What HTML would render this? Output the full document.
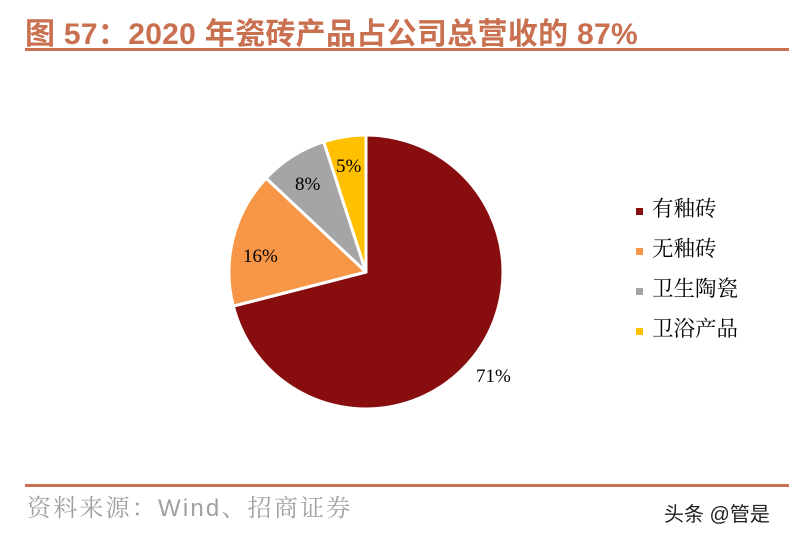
<!DOCTYPE html>
<html><head><meta charset="utf-8"><style>
body{margin:0;width:789px;height:539px;background:#fff;overflow:hidden;position:relative;font-family:"Liberation Sans","Noto Sans CJK SC",sans-serif}
.t{position:absolute;left:25px;top:9px;font-size:30px;font-weight:bold;color:#c8704f;white-space:nowrap;letter-spacing:0.3px}
.l1{position:absolute;left:25px;top:48px;width:764px;height:3px;background:#c8704f}
.l2{position:absolute;left:25px;top:484px;width:764px;height:3px;background:#c8704f}
.s{position:absolute;left:27px;top:488px;font-size:24px;color:#a0a0a0;letter-spacing:2.2px;font-family:"Liberation Sans","Noto Serif CJK SC",serif}
.w{position:absolute;left:664px;top:498px;font-size:20px;color:#222}
.lg{position:absolute;left:636px;font-size:21.5px;font-family:"Liberation Serif","Noto Serif CJK SC",serif;color:#000;line-height:24px}
.lg i{display:inline-block;width:7px;height:7px;margin-right:9px;vertical-align:middle}
</style></head><body>
<div class="t">图 57：2020 年瓷砖产品占公司总营收的 87%</div>
<div class="l1"></div>
<svg width="789" height="539" style="position:absolute;left:0;top:0">
<g stroke="#fff" stroke-width="3" stroke-linejoin="round">
<path d="M366,272 L366,135 A137,137 0 1 1 233.3,306.1 Z" fill="#870d0e"/>
<path d="M366,272 L233.3,306.1 A137,137 0 0 1 266.1,178.2 Z" fill="#f79646"/>
<path d="M366,272 L266.1,178.2 A137,137 0 0 1 323.7,141.7 Z" fill="#a5a5a5"/>
<path d="M366,272 L323.7,141.7 A137,137 0 0 1 366,135 Z" fill="#ffc000"/>
</g>
<g font-family="Liberation Serif,serif" font-size="19" fill="#000">
<text x="476" y="382">71%</text>
<text x="243" y="262">16%</text>
<text x="295" y="190">8%</text>
<text x="336" y="172">5%</text>
</g>
</svg>
<div class="lg" style="top:197px"><i style="background:#870d0e"></i>有釉砖</div>
<div class="lg" style="top:237px"><i style="background:#f79646"></i>无釉砖</div>
<div class="lg" style="top:277px"><i style="background:#a5a5a5"></i>卫生陶瓷</div>
<div class="lg" style="top:317px"><i style="background:#ffc000"></i>卫浴产品</div>
<div class="l2"></div>
<div class="s">资料来源：Wind、招商证券</div>
<div class="w">头条 @管是</div>
</body></html>
